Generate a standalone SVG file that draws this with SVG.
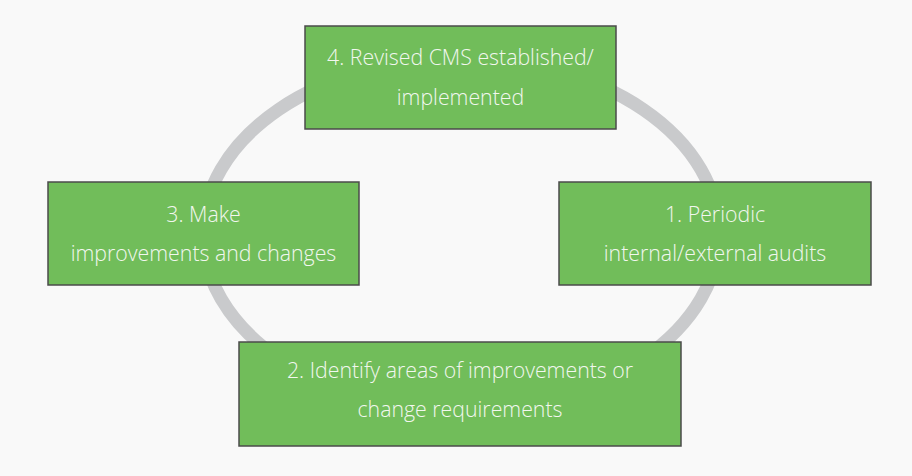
<svg xmlns="http://www.w3.org/2000/svg" width="912" height="476" viewBox="0 0 912 476">
<style>
.box{fill:#71bd5a;stroke:#4b4b4b;stroke-width:1.5}
.t{font-family:"Open Sans","Noto Sans",sans-serif;font-size:21.3px;font-weight:300;fill:#f2f7ef;text-anchor:middle}
.ring{fill:none;stroke:#c9cacc;stroke-width:13}
</style>
<rect width="912" height="476" fill="#f9f9f9"/>
<g id="connectors">
<ellipse class="ring" cx="461" cy="234" rx="258" ry="176"/>
</g>
<g id="node4">
<rect class="box" x="305" y="26" width="311" height="103"/>
<text class="t" x="460.5" y="65">4. Revised CMS established/</text>
<text class="t" x="460.5" y="105">implemented</text>
</g>
<g id="node3">
<rect class="box" x="48" y="182" width="311" height="103"/>
<text class="t" x="203.5" y="222">3. Make</text>
<text class="t" x="203.5" y="261">improvements and changes</text>
</g>
<g id="node1">
<rect class="box" x="559" y="182" width="312" height="103"/>
<text class="t" x="715" y="222">1. Periodic</text>
<text class="t" x="715" y="261">internal/external audits</text>
</g>
<g id="node2">
<rect class="box" x="239" y="342" width="442" height="104"/>
<text class="t" x="460" y="378">2. Identify areas of improvements or</text>
<text class="t" x="460" y="417">change requirements</text>
</g>
</svg>
